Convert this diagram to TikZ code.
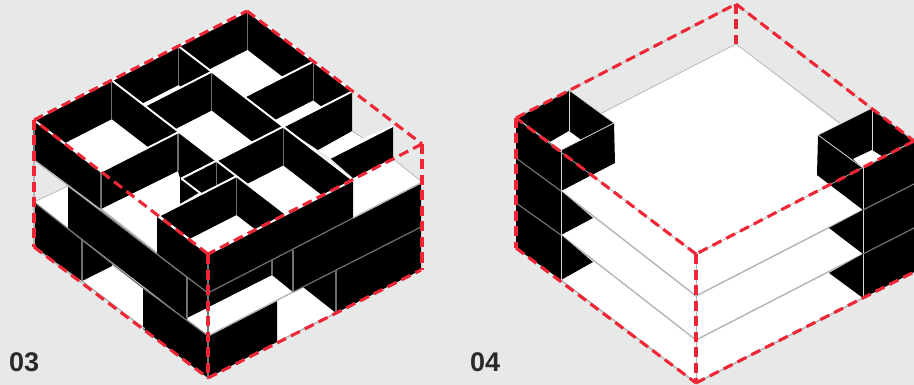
\documentclass[tikz,border=0pt]{standalone}
\usepackage{fontspec}
\setmainfont{Liberation Sans}
\definecolor{bgc}{HTML}{E7E9E8}
\definecolor{redc}{HTML}{EE2636}
\definecolor{inkc}{HTML}{2B2A2B}
\definecolor{softc}{HTML}{B4B4B4}
\definecolor{seamc}{HTML}{707070}
\newcommand\PP[2]{({34+174.5*(#1)+213.5*(#2)},{120+134*(#1)-109*(#2)})}
\newcommand\PH[2]{({34+174.5*(#1)+213.5*(#2)},{159+134*(#1)-109*(#2)})}
\newcommand\roomcell[4]{%
\begin{scope}
\clip \PP{#1}{#3} -- \PP{#2}{#3} -- \PP{#2}{#4} -- \PP{#1}{#4} -- cycle;
\fill[black] \PP{#1}{#3} -- \PP{#2}{#3} -- \PP{#2}{#4} -- \PP{#1}{#4} -- cycle;
\fill[white] \PH{#1}{#3} -- \PH{#2}{#3} -- \PH{#2}{#4} -- \PH{#1}{#4} -- cycle;
\draw[seam] \PP{#1}{#4} -- \PH{#1}{#4};
\end{scope}}
\newcommand\toptop[4]{\draw[topline] \PP{#1}{#2} -- \PP{#3}{#4};}
\tikzset{
 seam/.style={draw=seamc,line width=1.2pt},
 softline/.style={draw=softc,line width=1.4pt},
 thinline/.style={draw=softc,line width=0.7pt},
 topline/.style={draw=white,line width=1.9pt},
 towerline/.style={draw=white!85!black,line width=0.8pt},
 reddash/.style={draw=redc,line width=3.1pt,dash pattern=on 10pt off 5.5pt},
 lab/.style={font=\bfseries\fontsize{27}{27}\selectfont,text=inkc,inner sep=0pt,anchor=base west},
}
\begin{document}
\begin{tikzpicture}[x=1pt,y=-1pt]
\useasboundingbox (0,0) rectangle (914,385);
\fill[bgc] (0,0) rectangle (914,385);

% ---------- LEFT: lower storeys
\fill[white] (34,202) -- (68,186) -- (68,228) -- cycle;
\draw[thinline] (34,202) -- (68,186);
\fill[white] (82,281) -- (112,266) -- (143,288) -- (145,329) -- cycle;
\fill[white] (187,318) -- (272,275) -- (293,292) -- (208,336) -- cycle;
\fill[white] (277,342) -- (277,301) -- (303,287) -- (336,313) -- cycle;
\fill[white] (353,178) -- (393,158) -- (421,182) -- (353,218) -- cycle;
\draw[thinline] (393,159) -- (421,181);
\fill[white] (318,150) -- (352,131) -- (363,138) -- (393,126) -- (330,158) -- cycle;
\draw[thinline] (352,131) -- (363,138);
\fill[white] (101,209) -- (178,171) -- (180,178) -- (180,204) -- (157,217) -- (157,253) -- cycle;

% black faces
\fill[black] (34,202) -- (82,240) -- (112,263) -- (112,266) -- (82,281) -- (34,247) -- cycle;
\fill[black] (143,288) -- (208,336) -- (208,378) -- (143,329) -- cycle;
\fill[black] (208,336) -- (277,301) -- (277,342) -- (208,378) -- cycle;
\fill[black] (68,186) -- (187,278) -- (187,320) -- (68,228) -- cycle;
\fill[black] (187,278) -- (208,293) -- (272,260) -- (272,275) -- (187,318) -- cycle;
\fill[black] (272,260) -- (293,249) -- (293,292) -- (272,275) -- cycle;
\fill[black] (293,249) -- (353,218) -- (421,183) -- (421,227) -- (293,292) -- cycle;
\fill[black] (303,287) -- (421,227) -- (421,270) -- (336,313) -- cycle;
\fill[black] (208,254) -- (353,178) -- (353,218) -- (208,293) -- cycle;
\fill[black] (34,120) -- (101,172) -- (101,210) -- (34,160) -- cycle;
\fill[black] (157,217) -- (208,254) -- (208,293) -- (157,254) -- cycle;
\fill[black] (101,172) -- (178,132) -- (216,160) -- (180,178) -- (178,171) -- (101,209) -- cycle;
\fill[black] (180,178) -- (200,192) -- (180,204) -- cycle;
\fill[black] (283,127) -- (352,92) -- (352,131) -- (318,150) -- cycle;
\fill[black] (330,158) -- (393,126) -- (393,158) -- (353,178) -- cycle;

% seams on the lower storeys
\draw[seam] (82,240) -- (82,281);
\draw[seam] (187,278) -- (187,318);
\draw[seam] (272,260) -- (272,275);
\draw[seam] (293,250) -- (293,291);
\draw[seam] (336,270) -- (336,313);
\draw[seam] (101,172) -- (101,209);
\draw[seam] (178,132) -- (178,171);
\draw[seam] (68,186) -- (208,293) -- (353,218);
\draw[seam] (34,202) -- (143,288);
\draw[seam] (143,288) -- (208,336);
\draw[seam] (293,292) -- (421,227);
\draw[softline] (34,160) -- (101,210);
\draw[softline] (101,209) -- (157,253);
\draw[softline] (208,336) -- (293,292);
\draw[softline] (34,247) -- (82,283);
\draw[softline] (82,281) -- (145,329);
\draw[softline] (353,218) -- (421,183);
\draw[softline] (277,342) -- (336,313);

% rooms of the top storey
\roomcell{0}{.385}{0}{.364}
\roomcell{0}{.19}{.364}{.677}
\roomcell{0}{.377}{.677}{1}
\roomcell{.19}{.6}{.364}{.677}
\roomcell{.377}{.603}{.677}{1}
\roomcell{.6}{1}{.364}{.677}
\roomcell{.715}{1}{0}{.364}
\roomcell{.6}{.715}{.2}{.364}

% wall tops
\toptop{0}{0}{0}{1}
\toptop{0}{1}{.603}{1}
\toptop{0}{0}{.385}{0}
\toptop{.715}{0}{1}{0}
\toptop{1}{0}{1}{.677}
\toptop{.385}{0}{.385}{.364}
\toptop{0}{.364}{1}{.364}
\toptop{0}{.677}{1}{.677}
\toptop{.19}{.364}{.19}{.677}
\toptop{.377}{.677}{.377}{1}
\toptop{.6}{.2}{.6}{1}
\toptop{.715}{0}{.715}{.364}
\toptop{.6}{.2}{.715}{.2}
\draw[topline] (330,158) -- (393,126);

% dashes, left
\draw[seam] (34,120) -- (34,160);
\draw[softline] (34,160) -- (34,247);
\draw[seam] (208,254) -- (208,378);
\draw[reddash] (34,120) -- (247,11);
\draw[reddash] (247,11) -- (422,144);
\draw[reddash] (422,144) -- (208,254);
\draw[reddash] (208,254) -- (34,120);
\draw[reddash] (34,120) -- (34,247);
\draw[reddash] (34,247) -- (208,378);
\draw[reddash] (208,378) -- (421,270);
\draw[reddash] (208,254) -- (208,378);
\draw[reddash] (422,144) -- (422,270);

% ---------- RIGHT: plates
\fill[white] (736,44) -- (516,158) -- (696,296) -- (914,183) -- cycle;
\draw[thinline] (602,113) -- (736,44) -- (840,123);
\fill[white] (561,191) -- (696,296) -- (863,210) -- (863,254) -- (696,340) -- (561,235) -- cycle;
\fill[white] (561,235) -- (696,340) -- (863,254) -- (863,298) -- (696,383) -- (561,280) -- cycle;
\draw[softline] (561,191) -- (696,296) -- (863,210);
\draw[softline] (561,235) -- (696,340) -- (863,254);
\draw[softline] (561,280) -- (696,383) -- (863,298);

% left tower
\fill[black] (516,118) -- (561,150) -- (561,280) -- (516,248) -- cycle;
\fill[black] (561,150) -- (614,123) -- (615,163) -- (561,191) -- cycle;
\fill[black] (516,118) -- (569,90) -- (614,123) -- (561,150) -- cycle;
\fill[white] (550,142) -- (569,131) -- (581,140) -- (561,150) -- cycle;
\fill[black] (561,191) -- (593,218) -- (561,235) -- cycle;
\fill[black] (561,235) -- (593,262) -- (561,280) -- cycle;
\draw[towerline] (516,118) -- (569,90) -- (614,123) -- (561,150) -- cycle;
\draw[towerline] (569,90) -- (569,131);
\draw[towerline] (561,150) -- (561,280);
\draw[seam] (516,158) -- (561,191);
\draw[seam] (516,203) -- (561,235);

% right tower
\fill[black] (818,135) -- (863,168) -- (863,210) -- (817,175) -- cycle;
\fill[black] (863,168) -- (914,141) -- (914,272) -- (863,298) -- cycle;
\fill[black] (818,135) -- (872,108) -- (914,141) -- (863,168) -- cycle;
\fill[white] (853,159) -- (872,150) -- (883,157) -- (863,168) -- cycle;
\fill[black] (863,210) -- (829,228) -- (863,254) -- cycle;
\fill[black] (863,254) -- (829,273) -- (863,298) -- cycle;
\draw[towerline] (818,135) -- (872,108) -- (914,141) -- (863,168) -- cycle;
\draw[towerline] (872,108) -- (872,150);
\draw[towerline] (863,168) -- (863,298);
\draw[seam] (863,210) -- (914,184);
\draw[seam] (863,254) -- (914,228);

% dashes, right
\draw[thinline] (516,118) -- (736,4) -- (914,141) -- (696,254) -- cycle;
\draw[thinline] (696,254) -- (696,383);
\draw[reddash] (516,118) -- (736,4);
\draw[reddash] (736,4) -- (914,141);
\draw[reddash] (736,4) -- (736,44);
\draw[reddash] (914,141) -- (696,254);
\draw[reddash] (696,254) -- (516,118);
\draw[reddash] (516,118) -- (516,248);
\draw[reddash] (516,248) -- (696,383);
\draw[reddash] (696,383) -- (914,272);
\draw[reddash] (696,254) -- (696,383);

\node[lab] (labthree) at (9,371) {03};
\node[lab] (labfour) at (470,371) {04};
\end{tikzpicture}
\end{document}
